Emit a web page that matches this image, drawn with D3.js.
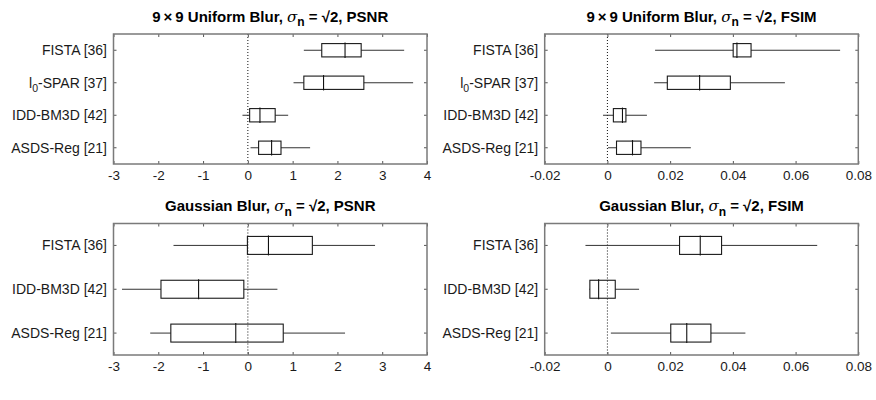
<!DOCTYPE html>
<html>
<head>
<meta charset="utf-8">
<script src="https://cdn.jsdelivr.net/npm/d3@7"></script>
<style>
  html, body { margin: 0; padding: 0; background: #fff; }
  svg { display: block; font-family: "Liberation Sans", Arial, Helvetica, sans-serif; }
</style>
</head>
<body>
<svg id="chart" width="876" height="400"></svg>
<script>
// ---------- data ----------
const catsUniform = ["FISTA [36]", "l0-SPAR [37]", "IDD-BM3D [42]", "ASDS-Reg [21]"];
const catsGauss = ["FISTA [36]", "IDD-BM3D [42]", "ASDS-Reg [21]"];

const psnrTicks = [-3, -2, -1, 0, 1, 2, 3, 4];
const fsimTicks = [-0.02, 0, 0.02, 0.04, 0.06, 0.08];

// each row: [whisker low, q1, median, q3, whisker high]
const uniformPSNR = [
  [1.25, 1.65, 2.17, 2.53, 3.49],
  [1.02, 1.25, 1.69, 2.59, 3.69],
  [-0.12, 0.04, 0.27, 0.61, 0.90],
  [0.06, 0.24, 0.53, 0.74, 1.39]
];
const uniformFSIM = [
  [0.0152, 0.0401, 0.0413, 0.0458, 0.0742],
  [0.0149, 0.0191, 0.0294, 0.0392, 0.0566],
  [-0.0014, 0.0019, 0.0048, 0.0059, 0.0126],
  [0.0002, 0.0029, 0.0080, 0.0107, 0.0266]
];
const gaussPSNR = [
  [-1.66, -0.01, 0.46, 1.44, 2.84],
  [-2.81, -1.94, -1.10, -0.09, 0.66],
  [-2.18, -1.72, -0.27, 0.79, 2.17]
];
const gaussFSIM = [
  [-0.0070, 0.0230, 0.0296, 0.0364, 0.0669],
  [-0.0058, -0.0056, -0.0028, 0.0025, 0.0101],
  [0.0011, 0.0202, 0.0253, 0.0330, 0.0440]
];

const titles = [
  { pre: "9\u2009\u00D7\u20099 Uniform Blur, ", post: " = \u221A2, PSNR" },
  { pre: "9\u2009\u00D7\u20099 Uniform Blur, ", post: " = \u221A2, FSIM" },
  { pre: "Gaussian Blur, ", post: " = \u221A2, PSNR" },
  { pre: "Gaussian Blur, ", post: " = \u221A2, FSIM" }
];

// ---------- layout ----------
const svg = d3.select("#chart");
const fmtPSNR = d => String(d);
const fmtFSIM = d => d === 0 ? "0" : d3.format(".2f")(d).replace("\u2212", "-");
const panels = [
  { cats: catsUniform, stats: uniformPSNR, domain: [-3, 4], ticks: psnrTicks, fmt: fmtPSNR,
    x0: 113.5, x1: 427, y0: 34, y1: 164, title: titles[0] },
  { cats: catsUniform, stats: uniformFSIM, domain: [-0.02, 0.08], ticks: fsimTicks, fmt: fmtFSIM,
    x0: 544.7, x1: 858.3, y0: 34, y1: 164, title: titles[1] },
  { cats: catsGauss, stats: gaussPSNR, domain: [-3, 4], ticks: psnrTicks, fmt: fmtPSNR,
    x0: 113.5, x1: 427, y0: 223.5, y1: 355, title: titles[2] },
  { cats: catsGauss, stats: gaussFSIM, domain: [-0.02, 0.08], ticks: fsimTicks, fmt: fmtFSIM,
    x0: 544.7, x1: 858.3, y0: 223.5, y1: 355, title: titles[3] }
];

const labelSize = 14;
const tickSize = 13.5;

panels.forEach(p => {
  const g = svg.append("g");
  const x = d3.scaleLinear().domain(p.domain).range([p.x0, p.x1]);
  const y = d3.scaleBand().domain(p.cats).range([p.y0, p.y1]).padding(0);
  const bh = y.bandwidth() * 0.41;
  const cy = c => y(c) + y.bandwidth() / 2;

  // zero dotted line
  g.append("line")
    .attr("x1", x(0)).attr("x2", x(0))
    .attr("y1", p.y0).attr("y2", p.y1)
    .attr("stroke", "#111").attr("stroke-width", 1)
    .attr("stroke-dasharray", "1,2");

  // boxes and whiskers
  p.cats.forEach((c, i) => {
    const s = p.stats[i];
    const yc = cy(c);
    g.append("line")
      .attr("x1", x(s[0])).attr("x2", x(s[1]))
      .attr("y1", yc).attr("y2", yc)
      .attr("stroke", "#333").attr("stroke-width", 1);
    g.append("line")
      .attr("x1", x(s[3])).attr("x2", x(s[4]))
      .attr("y1", yc).attr("y2", yc)
      .attr("stroke", "#333").attr("stroke-width", 1);
    g.append("rect")
      .attr("x", x(s[1])).attr("y", yc - bh / 2)
      .attr("width", x(s[3]) - x(s[1])).attr("height", bh)
      .attr("fill", "none").attr("stroke", "#1a1a1a").attr("stroke-width", 1.1);
    g.append("line")
      .attr("x1", x(s[2])).attr("x2", x(s[2]))
      .attr("y1", yc - bh / 2 - 1).attr("y2", yc + bh / 2 + 1)
      .attr("stroke", "#111").attr("stroke-width", 1.1);
  });

  // axes (ticks inside)
  const axB = d3.axisBottom(x).tickValues(p.ticks).tickSize(-3).tickFormat(p.fmt).tickPadding(6);
  const axT = d3.axisTop(x).tickValues(p.ticks).tickSize(-3).tickFormat("");
  const axL = d3.axisLeft(y).tickSize(-3).tickFormat("");
  const axR = d3.axisRight(y).tickSize(-3).tickFormat("");

  const gb = g.append("g").attr("transform", `translate(0,${p.y1})`).call(axB);
  g.append("g").attr("transform", `translate(0,${p.y0})`).call(axT);
  g.append("g").attr("transform", `translate(${p.x0},0)`).call(axL);
  g.append("g").attr("transform", `translate(${p.x1},0)`).call(axR);

  g.selectAll(".domain").remove();
  g.selectAll(".tick line").attr("stroke", "#555").attr("stroke-width", 1);
  gb.selectAll(".tick text")
    .attr("font-size", tickSize).attr("fill", "#1a1a1a")
    .style("font-family", "'Liberation Sans', Arial, sans-serif");

  // category labels
  p.cats.forEach(c => {
    const t = g.append("text")
      .attr("x", p.x0 - 6.5).attr("y", cy(c))
      .attr("dy", "0.36em")
      .attr("text-anchor", "end")
      .attr("font-size", labelSize).attr("fill", "#1a1a1a");
    if (c.startsWith("l0")) {
      t.append("tspan").text("l");
      t.append("tspan").attr("font-size", labelSize * 0.75).attr("dy", 4).text("0");
      t.append("tspan").attr("dy", -4).text(c.slice(2));
    } else {
      t.text(c);
    }
  });

  // frame
  g.append("rect")
    .attr("x", p.x0).attr("y", p.y0)
    .attr("width", p.x1 - p.x0).attr("height", p.y1 - p.y0)
    .attr("fill", "none").attr("stroke", "#7a7a7a").attr("stroke-width", 1.5);

  // title
  const tt = g.append("text")
    .attr("x", (p.x0 + p.x1) / 2).attr("y", p.y0 - 12.5)
    .attr("text-anchor", "middle")
    .attr("font-size", 15).attr("font-weight", "bold").attr("fill", "#000");
  tt.append("tspan").text(p.title.pre);
  tt.append("tspan").attr("font-style", "italic").attr("font-weight", "normal")
    .style("font-family", "'DejaVu Serif', serif").text("\u03C3");
  tt.append("tspan").attr("font-size", 12).attr("dy", 4.5).text("n");
  tt.append("tspan").attr("dy", -4.5).text(p.title.post);
});
</script>
</body>
</html>
